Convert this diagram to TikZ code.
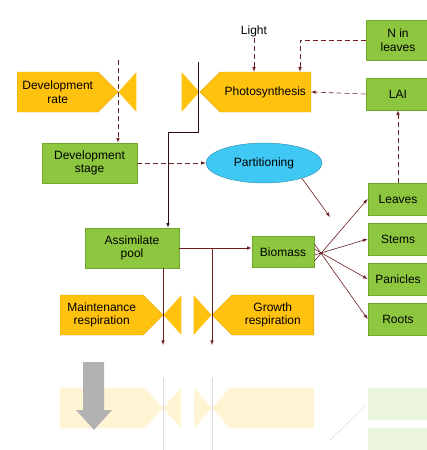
\documentclass[tikz,border=0pt]{standalone}
\usepackage{fontspec}
\setmainfont{Liberation Sans}
\usetikzlibrary{positioning,shapes.symbols,shapes.geometric}
\definecolor{ycol}{HTML}{FFC20E}
\definecolor{gcol}{HTML}{8DC63F}
\definecolor{gline}{HTML}{72A82E}
\definecolor{bcol}{HTML}{3FC8F4}
\definecolor{wire}{HTML}{6B1F1F}

\begin{document}
\begin{tikzpicture}[x=1pt,y=-1pt,>=latex,font=\fontsize{12}{13.5}\selectfont]
        \tikzset{box/.style={rectangle,fill=gcol,draw=gline,thick,align=center,inner sep=1pt}};
        \tikzset{rate/.style={signal,fill=ycol,draw=ycol!85!black,align=center,inner sep=1pt,minimum height=40pt}};
        \tikzset{valve/.style={fill=ycol}};
        \tikzset{flow/.style={->,wire,semithick}};
        \tikzset{info/.style={->,wire,semithick,dash pattern=on 5pt off 3pt}};

        \useasboundingbox (0,0) rectangle (426,450);

        % faded mirror image under the diagram
        \begin{scope}[opacity=0.18]
            \fill[ycol] (60,388) -- (145,388) -- (163,408) -- (145,428) -- (60,428) -- cycle;
            \fill[ycol] (163,408) -- (181,388) -- (181,428) -- cycle;
            \fill[ycol] (212,408) -- (194,388) -- (194,428) -- cycle;
            \fill[ycol] (212,408) -- (230,388) -- (314,388) -- (314,428) -- (230,428) -- cycle;
            \fill[gcol] (368,388) rectangle (428,420);
            \fill[gcol] (368,428) rectangle (428,460);
            \draw[wire] (163,378) -- (163,450);
            \draw[wire] (212,378) -- (212,450);
            \draw[wire] (330,440) -- (366,405);
        \end{scope}

        \node [rate,signal to=east,minimum width=101pt,anchor=west] (devrate) at (17,92) {Development\\rate};
        \node [rate,signal to=west,minimum width=111pt,anchor=east] (photo) at (311,92) {Photosynthesis};
        \node [rate,signal to=east,minimum width=103pt,anchor=west] (maint) at (60,315) {Maintenance\\respiration};
        \node [rate,signal to=west,minimum width=102pt,anchor=east] (growth) at (314,315) {Growth\\respiration};

        \fill[valve] (devrate.east) -- ++(18,-20) -- ++(0,40) -- cycle;
        \fill[valve] (photo.west) -- ++(-18,-20) -- ++(0,40) -- cycle;
        \fill[valve] (maint.east) -- ++(18,-20) -- ++(0,40) -- cycle;
        \fill[valve] (growth.west) -- ++(-18,-20) -- ++(0,40) -- cycle;

        \node [box,minimum width=95pt,minimum height=40pt] (devstage) at (89.5,163) {Development\\stage};
        \node [box,minimum width=64pt,minimum height=40pt] (nin) at (398,40) {N in\\leaves};
        \node [box,minimum width=64pt,minimum height=32pt] (lai) at (398,94) {LAI};
        \node [box,minimum width=94pt,minimum height=40pt] (assim) at (132,248) {Assimilate\\pool};
        \node [box,minimum width=62pt,minimum height=31pt] (biomass) at (283,252) {Biomass};
        \node [box,minimum width=60pt,minimum height=32pt] (leaves) at (398,199) {Leaves};
        \node [box,minimum width=60pt,minimum height=32pt] (stems) at (398,239) {Stems};
        \node [box,minimum width=60pt,minimum height=32pt] (panicles) at (398,279) {Panicles};
        \node [box,minimum width=60pt,minimum height=32pt] (roots) at (398,319) {Roots};
        \node [ellipse,fill=bcol,draw=bcol!70!black,minimum width=116pt,minimum height=40pt,inner sep=0pt] (part) at (264,163) {Partitioning};
        \node [inner sep=1pt] (light) at (254,31) {Light};

        \coordinate (drtop) at (118,60);
        \coordinate (ptop) at (198,62);
        \coordinate (pbend) at (168,132);
        \coordinate (nx) at (300,0);
        \coordinate (gtop) at (212,248);
        \coordinate (gend) at (212,345);
        \coordinate (mend) at (163,345);
        \coordinate (partend) at (330,217);

        \draw [info] (drtop) -- (drtop |- devstage.north);
        \draw [info] (devstage.east) -- (part.west);
        \draw [info] (light.south) -- (light.south |- photo.north);
        \draw [info] (nin.west) -| (nx |- photo.north);
        \draw [info] (lai.west) -- (photo.east);
        \draw [info] (leaves.north) -- (lai.south);

        \draw [flow,black!55!wire] (ptop) |- (pbend) -- (pbend |- assim.north);
        \draw [flow] (assim.east) -- (assim.east -| biomass.west);
        \draw [flow] (gtop) -- (gend);
        \draw [flow] (assim.south -| mend) -- (mend);
        \draw [flow] (part.-22) -- (partend);

        \draw [flow] ([yshift=-9pt]biomass.east) -- (leaves.west);
        \draw [flow] ([yshift=-3pt]biomass.east) -- (stems.west);
        \draw [flow] ([yshift=3pt]biomass.east) -- (panicles.west);
        \draw [flow] ([yshift=8pt]biomass.east) -- (roots.west);

        % big grey arrow
        \fill[black!30] (83,362) -- (104,362) -- (104,410) -- (112,410) -- (94,430) -- (76,410) -- (83,410) -- cycle;
    \end{tikzpicture}
\end{document}
